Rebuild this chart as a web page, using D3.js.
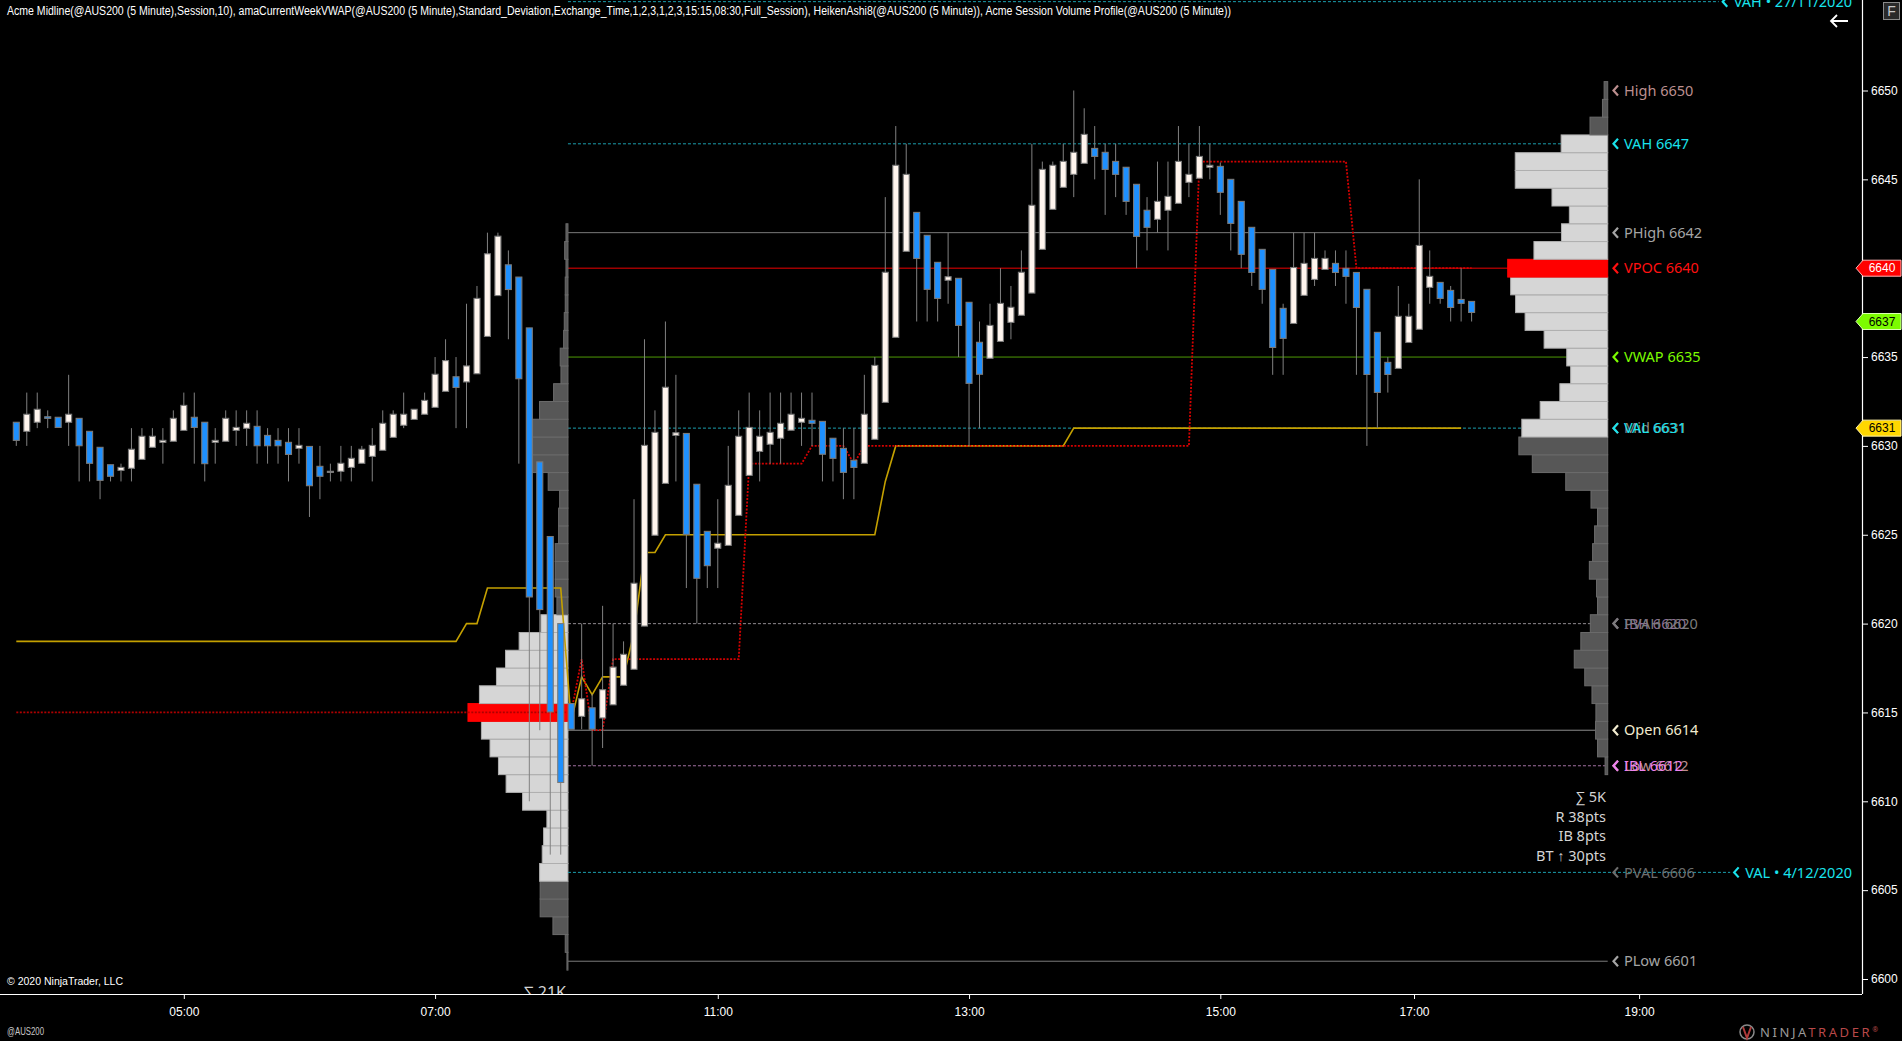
<!DOCTYPE html>
<html>
<head>
<meta charset="utf-8">
<script src="https://cdn.jsdelivr.net/npm/d3@7"></script>
<style>
  html, body { margin: 0; padding: 0; background: #000; overflow: hidden; }
  svg { display: block; }
</style>
</head>
<body>
<div id="chart"></div>
<script>
// ---- data ----
const titleText = "Acme Midline(@AUS200 (5 Minute),Session,10), amaCurrentWeekVWAP(@AUS200 (5 Minute),Standard_Deviation,Exchange_Time,1,2,3,1,2,3,15:15,08:30,Full_Session), HeikenAshi8(@AUS200 (5 Minute)), Acme Session Volume Profile(@AUS200 (5 Minute))";

// Heiken Ashi bars, one per 5 minute slot (bar index 0..139)
const haOpen = [6631.33, 6630.82, 6631.33, 6631.64, 6631.61, 6631.33, 6631.55, 6630.82, 6629.92, 6628.94,
  6628.62, 6628.74, 6629.24, 6629.92, 6630.2, 6630.26, 6630.87, 6631.61, 6631.33, 6630.2,
  6630.26, 6630.87, 6630.99, 6631.1, 6630.59, 6630.31, 6630.2, 6629.86, 6629.97, 6628.85,
  6628.51, 6628.57, 6628.79, 6629.02, 6629.41, 6629.75, 6630.48, 6631.16, 6631.49, 6631.78,
  6632.17, 6633.07, 6633.89, 6633.6, 6634.06, 6636.16, 6638.46, 6640.19, 6639.5, 6636.64,
  6629.1, 6624.9, 6620.0, 6615.5, 6614.78, 6615.26, 6614.69, 6615.43, 6616.53, 6617.43,
  6619.86, 6624.97, 6627.89, 6630.59, 6630.7, 6627.84, 6625.19, 6624.24, 6624.4, 6626.09,
  6628.34, 6629.69, 6630.09, 6630.43, 6630.88, 6631.33, 6631.44, 6631.38, 6630.43, 6629.86,
  6629.19, 6629.02, 6630.37, 6632.45, 6636.11, 6640.95, 6643.14, 6641.85, 6640.33, 6639.32,
  6639.43, 6638.08, 6635.83, 6634.93, 6635.88, 6636.95, 6637.35, 6638.6, 6641.06, 6643.31,
  6644.55, 6645.28, 6645.9, 6646.74, 6646.52, 6646.01, 6645.68, 6644.72, 6643.26, 6642.75,
  6643.26, 6643.65, 6644.83, 6645.06, 6645.68, 6645.73, 6645.0, 6643.76, 6642.3, 6641.06,
  6639.93, 6637.74, 6636.89, 6638.47, 6639.37, 6639.93, 6640.27, 6639.99, 6639.76, 6638.81,
  6636.39, 6634.7, 6634.36, 6635.82, 6636.56, 6638.92, 6639.2, 6638.75, 6638.24, 6638.13];
const haHigh = [6631.33, 6633.0, 6633.0, 6632.0, 6631.61, 6634.0, 6631.55, 6630.82, 6629.92, 6628.94,
  6629.0, 6631.0, 6631.0, 6631.0, 6631.0, 6632.0, 6633.0, 6633.0, 6631.33, 6631.0,
  6632.0, 6632.0, 6632.0, 6632.0, 6631.0, 6631.0, 6631.0, 6631.0, 6629.97, 6630.0,
  6629.0, 6630.0, 6630.0, 6630.0, 6631.0, 6632.0, 6632.0, 6633.0, 6632.06, 6633.0,
  6635.0, 6636.0, 6635.0, 6638.0, 6639.0, 6642.0, 6642.0, 6641.0, 6639.5, 6636.64,
  6629.1, 6624.9, 6620.0, 6615.5, 6620.0, 6616.05, 6621.0, 6620.0, 6619.0, 6627.0,
  6636.0, 6632.0, 6637.0, 6634.0, 6630.7, 6627.84, 6625.19, 6627.0, 6630.0, 6632.0,
  6633.0, 6632.0, 6633.0, 6633.0, 6633.0, 6633.0, 6633.0, 6631.38, 6630.43, 6631.0,
  6631.0, 6634.0, 6635.0, 6644.0, 6648.0, 6647.0, 6643.14, 6641.85, 6640.33, 6642.0,
  6639.43, 6638.08, 6637.0, 6638.0, 6640.0, 6639.0, 6641.0, 6647.0, 6646.0, 6646.0,
  6647.0, 6650.0, 6649.0, 6648.0, 6647.0, 6647.0, 6645.68, 6644.72, 6644.0, 6646.0,
  6646.0, 6648.0, 6647.0, 6648.0, 6647.0, 6645.95, 6645.0, 6643.76, 6642.3, 6641.06,
  6639.93, 6638.0, 6642.0, 6642.0, 6642.0, 6641.0, 6641.0, 6641.0, 6639.76, 6638.81,
  6636.39, 6635.0, 6639.0, 6638.0, 6645.0, 6641.0, 6639.2, 6639.0, 6640.0, 6638.13];
const haLow = [6630.0, 6630.0, 6631.0, 6631.0, 6631.04, 6630.0, 6628.0, 6628.0, 6627.0, 6628.0,
  6628.0, 6628.0, 6629.24, 6629.92, 6629.0, 6630.26, 6630.87, 6629.0, 6628.0, 6629.0,
  6630.26, 6630.0, 6630.0, 6629.0, 6629.0, 6629.0, 6628.0, 6629.0, 6626.0, 6627.0,
  6628.0, 6628.0, 6628.0, 6629.02, 6628.0, 6629.75, 6630.48, 6631.0, 6631.49, 6631.78,
  6632.17, 6633.07, 6631.0, 6631.0, 6634.06, 6636.16, 6638.46, 6636.0, 6629.0, 6610.0,
  6614.0, 6607.0, 6607.0, 6614.06, 6614.06, 6612.0, 6613.0, 6615.43, 6616.53, 6617.43,
  6619.86, 6624.97, 6627.89, 6628.0, 6622.0, 6620.0, 6622.0, 6622.0, 6624.4, 6626.09,
  6628.34, 6628.0, 6629.0, 6629.0, 6630.88, 6630.0, 6630.0, 6628.0, 6628.0, 6627.0,
  6627.0, 6629.02, 6630.37, 6632.45, 6636.11, 6640.95, 6637.0, 6637.0, 6637.0, 6638.0,
  6635.0, 6630.0, 6631.0, 6634.93, 6635.88, 6636.0, 6637.35, 6638.6, 6641.06, 6643.31,
  6644.55, 6644.0, 6645.9, 6645.0, 6643.0, 6644.0, 6643.0, 6640.0, 6641.0, 6642.0,
  6641.0, 6643.65, 6644.0, 6645.06, 6645.0, 6643.0, 6641.0, 6640.0, 6639.0, 6638.0,
  6634.0, 6634.0, 6636.89, 6638.47, 6639.0, 6639.93, 6639.0, 6638.0, 6634.0, 6630.0,
  6631.0, 6633.0, 6634.36, 6635.82, 6636.56, 6638.0, 6638.0, 6637.0, 6637.0, 6637.0];
const haClose = [6630.31, 6631.78, 6632.06, 6631.55, 6631.04, 6631.78, 6630.01, 6629.02, 6628.06, 6628.29,
  6628.79, 6629.81, 6630.54, 6630.54, 6630.31, 6631.55, 6632.28, 6631.04, 6629.0, 6630.31,
  6631.55, 6631.04, 6631.27, 6630.01, 6630.01, 6630.01, 6629.52, 6630.03, 6627.76, 6628.29,
  6628.57, 6629.02, 6629.3, 6629.81, 6630.03, 6631.27, 6631.78, 6631.78, 6632.06, 6632.56,
  6634.03, 6634.8, 6633.29, 6634.5, 6638.3, 6640.81, 6641.8, 6638.8, 6633.78, 6621.5,
  6620.79, 6615.03, 6611.06, 6614.06, 6615.77, 6614.06, 6616.28, 6617.55, 6618.27, 6622.27,
  6630.03, 6630.76, 6633.3, 6630.74, 6625.02, 6622.55, 6623.26, 6624.52, 6627.78, 6630.54,
  6631.04, 6630.54, 6630.76, 6631.27, 6631.78, 6631.55, 6631.27, 6629.53, 6629.3, 6628.51,
  6628.79, 6631.78, 6634.53, 6639.77, 6645.79, 6645.28, 6640.55, 6638.81, 6638.3, 6639.52,
  6636.78, 6633.52, 6634.03, 6636.78, 6638.02, 6637.8, 6639.77, 6643.54, 6645.56, 6645.79,
  6646.01, 6646.52, 6647.53, 6646.29, 6645.56, 6645.28, 6643.76, 6641.79, 6642.3, 6643.76,
  6644.04, 6646.01, 6645.28, 6646.29, 6645.79, 6644.27, 6642.52, 6640.78, 6639.76, 6638.81,
  6635.54, 6636.05, 6640.04, 6640.27, 6640.55, 6640.55, 6639.76, 6639.54, 6637.79, 6634.02,
  6633.01, 6634.02, 6637.29, 6637.29, 6641.28, 6639.54, 6638.3, 6637.79, 6638.02, 6637.51];

// Acme Midline per bar (0..138)
const midline = [6619, 6619, 6619, 6619, 6619, 6619, 6619, 6619, 6619, 6619,
  6619, 6619, 6619, 6619, 6619, 6619, 6619, 6619, 6619, 6619,
  6619, 6619, 6619, 6619, 6619, 6619, 6619, 6619, 6619, 6619,
  6619, 6619, 6619, 6619, 6619, 6619, 6619, 6619, 6619, 6619,
  6619, 6619, 6619, 6620, 6620, 6622, 6622, 6622, 6622, 6622,
  6622, 6622, 6622, 6614.5, 6617, 6616, 6617, 6617, 6617, 6619.5,
  6624, 6624, 6625, 6625, 6625, 6625, 6625, 6625, 6625, 6625,
  6625, 6625, 6625, 6625, 6625, 6625, 6625, 6625, 6625, 6625,
  6625, 6625, 6625, 6628, 6630, 6630, 6630, 6630, 6630, 6630,
  6630, 6630, 6630, 6630, 6630, 6630, 6630, 6630, 6630, 6630,
  6630, 6631, 6631, 6631, 6631, 6631, 6631, 6631, 6631, 6631,
  6631, 6631, 6631, 6631, 6631, 6631, 6631, 6631, 6631, 6631,
  6631, 6631, 6631, 6631, 6631, 6631, 6631, 6631, 6631, 6631,
  6631, 6631, 6631, 6631, 6631, 6631, 6631, 6631, 6631];

// developing POC per bar (0..139); the new session starts at bar 53
const devPoc = [6615, 6615, 6615, 6615, 6615, 6615, 6615, 6615, 6615, 6615,
  6615, 6615, 6615, 6615, 6615, 6615, 6615, 6615, 6615, 6615,
  6615, 6615, 6615, 6615, 6615, 6615, 6615, 6615, 6615, 6615,
  6615, 6615, 6615, 6615, 6615, 6615, 6615, 6615, 6615, 6615,
  6615, 6615, 6615, 6615, 6615, 6615, 6615, 6615, 6615, 6615,
  6615, 6615, 6615, 6615, 6618, 6614, 6614, 6618, 6618, 6618,
  6618, 6618, 6618, 6618, 6618, 6618, 6618, 6618, 6618, 6618,
  6629, 6629, 6629, 6629, 6629, 6629, 6630, 6630, 6630, 6630,
  6629, 6630, 6630, 6630, 6630, 6630, 6630, 6630, 6630, 6630,
  6630, 6630, 6630, 6630, 6630, 6630, 6630, 6630, 6630, 6630,
  6630, 6630, 6630, 6630, 6630, 6630, 6630, 6630, 6630, 6630,
  6630, 6630, 6630, 6646, 6646, 6646, 6646, 6646, 6646, 6646,
  6646, 6646, 6646, 6646, 6646, 6646, 6646, 6646, 6640, 6640,
  6640, 6640, 6640, 6640, 6640, 6640, 6640, 6640, 6640, 6640];
const sessionStartBar = 53;

// volume profiles (one row per point)
const prevProfilePrices = [6601, 6602, 6603, 6604, 6605, 6606, 6607, 6608, 6609, 6610,
  6611, 6612, 6613, 6614, 6615, 6616, 6617, 6618, 6619, 6620,
  6621, 6622, 6623, 6624, 6625, 6626, 6627, 6628, 6629, 6630,
  6631, 6632, 6633, 6634, 6635, 6636, 6637, 6638, 6639, 6640, 6641, 6642];
const prevProfileVolumes = [18, 48, 264, 488, 488, 498, 452, 428, 370, 797,
  1086, 1220, 1368, 1519, 1755, 1554, 1255, 1096, 857, 475,
  194, 224, 224, 224, 164, 164, 146, 347, 621, 621,
  621, 498, 252, 123, 136, 76, 65, 48, 48, 35, 58, 35];
const prevValueArea = [6606, 6620];
const prevPoc = 6615;

const currProfilePrices = [6612, 6613, 6614, 6615, 6616, 6617, 6618, 6619, 6620, 6621,
  6622, 6623, 6624, 6625, 6626, 6627, 6628, 6629, 6630, 6631,
  6632, 6633, 6634, 6635, 6636, 6637, 6638, 6639, 6640, 6641,
  6642, 6643, 6644, 6645, 6646, 6647, 6648, 6649, 6650];
const currProfileVolumes = [8, 31, 37, 36, 48, 70, 102, 82, 53, 31,
  34, 56, 46, 40, 31, 51, 128, 230, 271, 262,
  206, 146, 113, 125, 194, 252, 281, 296, 305, 225,
  141, 117, 170, 282, 282, 142, 54, 16, 11];
const currValueArea = [6631, 6647];
const currPoc = 6640;

// session levels shown at the right of the profile
const levelNames = ["High", "VAH", "PHigh", "VPOC", "VWAP", "Mid", "VAL", "IBH", "PVAH", "Open", "Low", "IBL", "PVAL", "PLow"];
const levelValues = [6650, 6647, 6642, 6640, 6635, 6631, 6631, 6620, 6620, 6614, 6612, 6612, 6606, 6601];

// weekly levels
const weeklyNames = ["VAH • 27/11/2020", "VAL • 4/12/2020"];
const weeklyValues = [6655, 6606];

const statLines = ["∑ 5K", "R 38pts", "IB 8pts", "BT ↑ 30pts"];
const prevTotal = "∑ 21K";

const priceTicks = [6600, 6605, 6610, 6615, 6620, 6625, 6630, 6635, 6640, 6645, 6650];
const timeTicks = ["05:00", "07:00", "11:00", "13:00", "15:00", "17:00", "19:00"];
const timeTickBars = [16, 40, 67, 91, 115, 133.5, 155];

const markerValues = [6640, 6637, 6631];

// ---- layout / styles ----
const W = 1902, H = 1041;
const plotRight = 1862, plotBottom = 994;
const narrow = "'Liberation Sans Narrow', 'Arial Narrow', 'Liberation Sans', Arial, sans-serif";
const labelFont = "'Noto Sans', 'Open Sans', sans-serif";

const levelStyle = {
  High:  { color: "#BC8F8F" },
  VAH:   { color: "#19E3EC", line: "#1B9FAE", dash: "3,2" },
  PHigh: { color: "#A5A5A5", line: "#7A7A7A" },
  VPOC:  { color: "#FF1010", line: "#9E0000", width: 1.6 },
  VWAP:  { color: "#7CFC00", line: "#4E9A06" },
  Mid:   { color: "#8A8A8A" },
  VAL:   { color: "#19E3EC", line: "#1B9FAE", dash: "3,2" },
  IBH:   { color: "#8C6E96", line: "#8E6A8E", dash: "3,2" },
  PVAH:  { color: "#7C7C7C", line: "#7A7A7A", dash: "3,2" },
  Open:  { color: "#F2EBCF", line: "#8C8C8C" },
  Low:   { color: "#BC8F8F" },
  IBL:   { color: "#EE82EE", line: "#A270A2", dash: "3,2" },
  PVAL:  { color: "#6E6E6E" },
  PLow:  { color: "#A5A5A5", line: "#7A7A7A" }
};
const markerStyle = [
  { fill: "#FF0000", stroke: "#FFB4B4", text: "#FFFFFF" },
  { fill: "#7CFC00", stroke: "#D8FFB0", text: "#000000" },
  { fill: "#FFD700", stroke: "#FFF2A8", text: "#000000" }
];

const svg = d3.select("#chart").append("svg")
  .attr("width", W).attr("height", H)
  .style("background", "#000");

svg.append("clipPath").attr("id", "plotClip")
  .append("rect").attr("x", 0).attr("y", 0).attr("width", plotRight).attr("height", plotBottom);

const x = d3.scaleLinear().domain([0, 139]).range([16.3, 1471.6]);
const y = d3.scaleLinear().domain([6600, 6650]).range([979, 90.5]);

const sessionX = (x(sessionStartBar - 1) + x(sessionStartBar)) / 2 + 2;
const currProfileEdge = x(152);

const plot = svg.append("g").attr("clip-path", "url(#plotClip)");

// level lines (behind the profile)
const lineGroup = plot.append("g");
levelNames.forEach((name, i) => {
  const st = levelStyle[name];
  if (!st.line) return;
  lineGroup.append("line")
    .attr("x1", sessionX).attr("x2", currProfileEdge)
    .attr("y1", y(levelValues[i])).attr("y2", y(levelValues[i]))
    .attr("stroke", st.line)
    .attr("stroke-width", st.width || 1)
    .attr("stroke-dasharray", st.dash || null);
});

// volume profiles
function drawProfile(prices, vols, edgeX, va, poc) {
  const w = d3.scaleLinear().domain([0, d3.max(vols)]).range([0, 100]);
  const inVA = p => p >= va[0] && p <= va[1];
  plot.append("g").selectAll("rect")
    .data(prices)
    .join("rect")
    .attr("x", (d, i) => edgeX - w(vols[i]))
    .attr("y", d => y(d + 0.5))
    .attr("width", (d, i) => w(vols[i]))
    .attr("height", d => y(d - 0.5) - y(d + 0.5))
    .attr("fill", d => d === poc ? "#FF0000" : (inVA(d) ? "#D6D6D6" : "#575757"))
    .attr("stroke", d => d === poc ? "#FF0000" : (inVA(d) ? "#AFAFAF" : "#6B6B6B"))
    .attr("stroke-width", 1);
}
drawProfile(prevProfilePrices, prevProfileVolumes, sessionX, prevValueArea, prevPoc);
drawProfile(currProfilePrices, currProfileVolumes, currProfileEdge, currValueArea, currPoc);

// midline
plot.append("path")
  .datum(midline)
  .attr("fill", "none")
  .attr("stroke", "#C4A000")
  .attr("stroke-width", 1.6)
  .attr("d", d3.line().x((d, i) => x(i)).y(d => y(d)));

// developing POC, prior session then current session
const pocLine = d3.line().x(d => x(d.i)).y(d => y(d.v));
const pocPts = devPoc.map((v, i) => ({ i, v }));
[pocPts.slice(0, sessionStartBar), pocPts.slice(sessionStartBar - 1)].forEach((seg, k) => {
  plot.append("path")
    .datum(seg)
    .attr("fill", "none")
    .attr("stroke", k === 0 ? "#B00000" : "#D40000")
    .attr("stroke-width", 1.8)
    .attr("stroke-dasharray", "2,1.5")
    .attr("d", pocLine);
});

// candles
const bars = haOpen.map((o, i) => ({ i, o, h: haHigh[i], l: haLow[i], c: haClose[i] }));
const cg = plot.append("g");
cg.selectAll("line.wick")
  .data(bars)
  .join("line")
  .attr("class", "wick")
  .attr("x1", d => x(d.i)).attr("x2", d => x(d.i))
  .attr("y1", d => y(d.h)).attr("y2", d => y(d.l))
  .attr("stroke", "#808080")
  .attr("stroke-width", 1);
cg.selectAll("rect.body")
  .data(bars)
  .join("rect")
  .attr("class", "body")
  .attr("x", d => x(d.i) - 3)
  .attr("y", d => y(Math.max(d.o, d.c)))
  .attr("width", 6)
  .attr("height", d => Math.max(1, Math.abs(y(d.o) - y(d.c))))
  .attr("fill", d => d.c >= d.o ? "#FFF5EE" : "#1E90FF")
  .attr("stroke", "#7A7A7A")
  .attr("stroke-width", 1.1);

// labels next to the profile
function chevron(g, cx, cy, color) {
  g.append("path")
    .attr("d", `M${cx + 4.5},${cy - 5} L${cx},${cy} L${cx + 4.5},${cy + 5}`)
    .attr("fill", "none")
    .attr("stroke", color)
    .attr("stroke-width", 2.2);
}
const labelGroup = svg.append("g");
levelNames.forEach((name, i) => {
  const st = levelStyle[name];
  const yy = y(levelValues[i]);
  chevron(labelGroup, 1613.5, yy, st.color);
  labelGroup.append("text")
    .attr("x", 1624).attr("y", yy).attr("dy", "0.36em")
    .attr("fill", st.color)
    .style("font-family", labelFont).style("font-size", "14.5px")
    .text(name + " " + levelValues[i]);
});

// weekly levels: dashed line through the chart up to the label
weeklyNames.forEach((name, i) => {
  const yy = y(weeklyValues[i]);
  const t = plot.append("text")
    .attr("x", 1852).attr("y", yy).attr("dy", "0.36em")
    .attr("text-anchor", "end")
    .attr("fill", "#19E3EC")
    .style("font-family", labelFont).style("font-size", "14.5px")
    .text(name);
  const tw = t.node().getComputedTextLength();
  const cx = 1852 - tw - 11;
  chevron(plot, cx, yy, "#19E3EC");
  plot.append("line")
    .attr("x1", sessionX).attr("x2", cx - 4)
    .attr("y1", yy).attr("y2", yy)
    .attr("stroke", "#1B9FAE")
    .attr("stroke-dasharray", "3,2");
});

// profile statistics
svg.append("g").selectAll("text")
  .data(statLines)
  .join("text")
  .attr("x", 1606)
  .attr("y", (d, i) => 802 + i * 19.7)
  .attr("text-anchor", "end")
  .attr("fill", "#D4D4D4")
  .style("font-family", labelFont).style("font-size", "14.5px")
  .text(d => d);

plot.append("text")
  .attr("x", sessionX - 2).attr("y", 998)
  .attr("text-anchor", "end")
  .attr("fill", "#D4D4D4")
  .style("font-family", labelFont).style("font-size", "16px")
  .text(prevTotal);

// axes
const xAxis = d3.axisBottom(x)
  .tickValues(timeTickBars)
  .tickFormat((d, i) => timeTicks[i])
  .tickSize(5).tickPadding(8);
const gx = svg.append("g").attr("transform", `translate(0,${plotBottom})`).call(xAxis);
gx.select(".domain").remove();
gx.selectAll(".tick line").attr("stroke", "#FFFFFF");
gx.selectAll(".tick text").attr("fill", "#FFFFFF")
  .style("font-family", narrow).style("font-size", "12px");

const yAxis = d3.axisRight(y).tickValues(priceTicks).tickFormat(d3.format("d")).tickSize(6).tickPadding(3);
const gy = svg.append("g").attr("transform", `translate(${plotRight},0)`).call(yAxis);
gy.select(".domain").remove();
gy.selectAll(".tick line").attr("stroke", "#FFFFFF");
gy.selectAll(".tick text").attr("fill", "#FFFFFF")
  .style("font-family", narrow).style("font-size", "12px");

svg.append("line").attr("x1", 0).attr("x2", plotRight).attr("y1", plotBottom + 0.5).attr("y2", plotBottom + 0.5)
  .attr("stroke", "#FFFFFF").attr("stroke-width", 1.2);
svg.append("line").attr("x1", plotRight + 0.5).attr("x2", plotRight + 0.5).attr("y1", 0).attr("y2", plotBottom)
  .attr("stroke", "#FFFFFF").attr("stroke-width", 1.2);

// price markers on the axis
markerValues.forEach((v, i) => {
  const yy = y(v), st = markerStyle[i];
  svg.append("path")
    .attr("d", `M1856,${yy} L1863,${yy - 8} L1901,${yy - 8} L1901,${yy + 8} L1863,${yy + 8} Z`)
    .attr("fill", st.fill).attr("stroke", st.stroke).attr("stroke-width", 1);
  svg.append("text")
    .attr("x", 1882).attr("y", yy).attr("dy", "0.35em")
    .attr("text-anchor", "middle")
    .attr("fill", st.text)
    .style("font-family", narrow).style("font-size", "12px")
    .text(v);
});

// title and footer texts
svg.append("text")
  .attr("x", 7).attr("y", 15)
  .attr("fill", "#FFFFFF")
  .attr("textLength", 1224).attr("lengthAdjust", "spacingAndGlyphs")
  .style("font-family", narrow).style("font-size", "12px")
  .text(titleText);

svg.append("text")
  .attr("x", 7).attr("y", 985)
  .attr("fill", "#FFFFFF")
  .attr("textLength", 116).attr("lengthAdjust", "spacingAndGlyphs")
  .style("font-family", narrow).style("font-size", "11.5px")
  .text("© 2020 NinjaTrader, LLC");

svg.append("text")
  .attr("x", 7).attr("y", 1035)
  .attr("fill", "#C8C8C8")
  .attr("textLength", 37).attr("lengthAdjust", "spacingAndGlyphs")
  .style("font-family", narrow).style("font-size", "10px")
  .text("@AUS200");

// top right controls
svg.append("rect").attr("x", 1883.5).attr("y", 2.5).attr("width", 16).attr("height", 17)
  .attr("fill", "#2A2A2A").attr("stroke", "#8A8A8A");
svg.append("text").attr("x", 1891.5).attr("y", 16).attr("text-anchor", "middle")
  .attr("fill", "#C8C8C8").style("font-family", narrow).style("font-size", "14px").text("F");
svg.append("path")
  .attr("d", "M1848,21 L1831,21 M1837,15 L1831,21 L1837,27")
  .attr("fill", "none").attr("stroke", "#FFFFFF").attr("stroke-width", 1.8);

// brand mark
const brand = svg.append("g");
brand.append("circle").attr("cx", 1747).attr("cy", 1032).attr("r", 7)
  .attr("fill", "none").attr("stroke", "#8A8A8A").attr("stroke-width", 1.5);
brand.append("path").attr("d", "M1743,1027 L1747,1038 L1751,1027")
  .attr("fill", "none").attr("stroke", "#B03A3A").attr("stroke-width", 2);
const bt = brand.append("text").attr("x", 1760).attr("y", 1037)
  .style("font-family", labelFont).style("font-size", "13px").style("letter-spacing", "2.6px");
bt.append("tspan").attr("fill", "#9A9A9A").text("NINJA");
bt.append("tspan").attr("fill", "#B84848").text("TRADER");
bt.append("tspan").attr("fill", "#B84848").style("font-size", "7px").attr("dy", "-5").text("®");
</script>
</body>
</html>
